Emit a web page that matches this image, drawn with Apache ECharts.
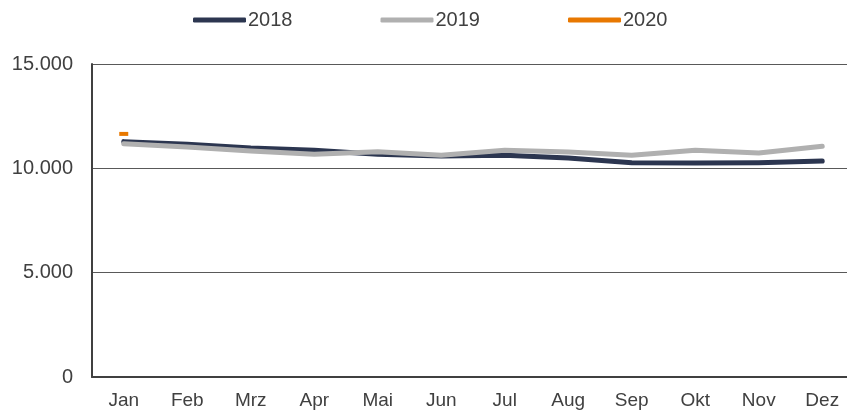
<!DOCTYPE html>
<html>
<head>
<meta charset="utf-8">
<script src="https://cdn.jsdelivr.net/npm/echarts@6/dist/echarts.min.js"></script>
<style>html,body{margin:0;padding:0;background:#fff;overflow:hidden;width:847px;height:416px;}#c{width:854px;height:416px;}</style>
</head>
<body>
<div id="c"></div>
<script>
const categories = ['Jan','Feb','Mrz','Apr','Mai','Jun','Jul','Aug','Sep','Okt','Nov','Dez'];
const s2018 = [11280,11160,10970,10870,10680,10590,10630,10490,10270,10250,10270,10350];
const s2019 = [11180,11020,10830,10680,10800,10630,10870,10780,10630,10870,10730,11060];
const s2020 = [11650,null,null,null,null,null,null,null,null,null,null,null];
const yTicks = [0,5000,10000,15000];

const chart = echarts.init(document.getElementById('c'));
const fmt = v => v === 0 ? '0' : String(v).replace(/\B(?=(\d{3})+(?!\d))/g, '.');
const lineSeries = (name, data, color) => ({
  name, type: 'line', data, showSymbol: false, symbol: 'none',
  lineStyle: { color, width: 5, cap: 'round', join: 'round' },
  itemStyle: { color }, animation: false
});
chart.setOption({
  animation: false,
  textStyle: { fontFamily: 'Liberation Sans, Arial, sans-serif' },
  legend: {
    top: 5, left: 188, itemGap: 88, itemWidth: 53, itemHeight: 5,
    icon: 'roundRect',
    textStyle: { fontSize: 20, color: '#404040', padding: [0,0,0,-3] },
    data: ['2018','2019','2020']
  },
  grid: { left: 92, right: 0, top: 64, bottom: 39 },
  xAxis: {
    type: 'category', data: categories, boundaryGap: true,
    axisLine: { lineStyle: { color: '#404040', width: 2 } },
    axisTick: { show: false },
    axisLabel: { fontSize: 19, color: '#404040', margin: 14 }
  },
  yAxis: {
    type: 'value', min: yTicks[0], max: yTicks[yTicks.length-1], interval: 5000,
    axisLine: { show: true, lineStyle: { color: '#404040', width: 2 } },
    axisTick: { show: false },
    splitLine: { lineStyle: { color: '#595959', width: 1 } },
    axisLabel: { fontSize: 20, color: '#404040', margin: 19, formatter: fmt }
  },
  series: [
    lineSeries('2018', s2018, '#2C3650'),
    lineSeries('2019', s2019, '#B0B0B0'),
    {
      name: '2020', type: 'line', data: s2020, showSymbol: true, symbol: 'rect',
      symbolSize: [9,4], itemStyle: { color: '#E87800' },
      lineStyle: { color: '#E87800', width: 5 }
    }
  ]
});
</script>
</body>
</html>
